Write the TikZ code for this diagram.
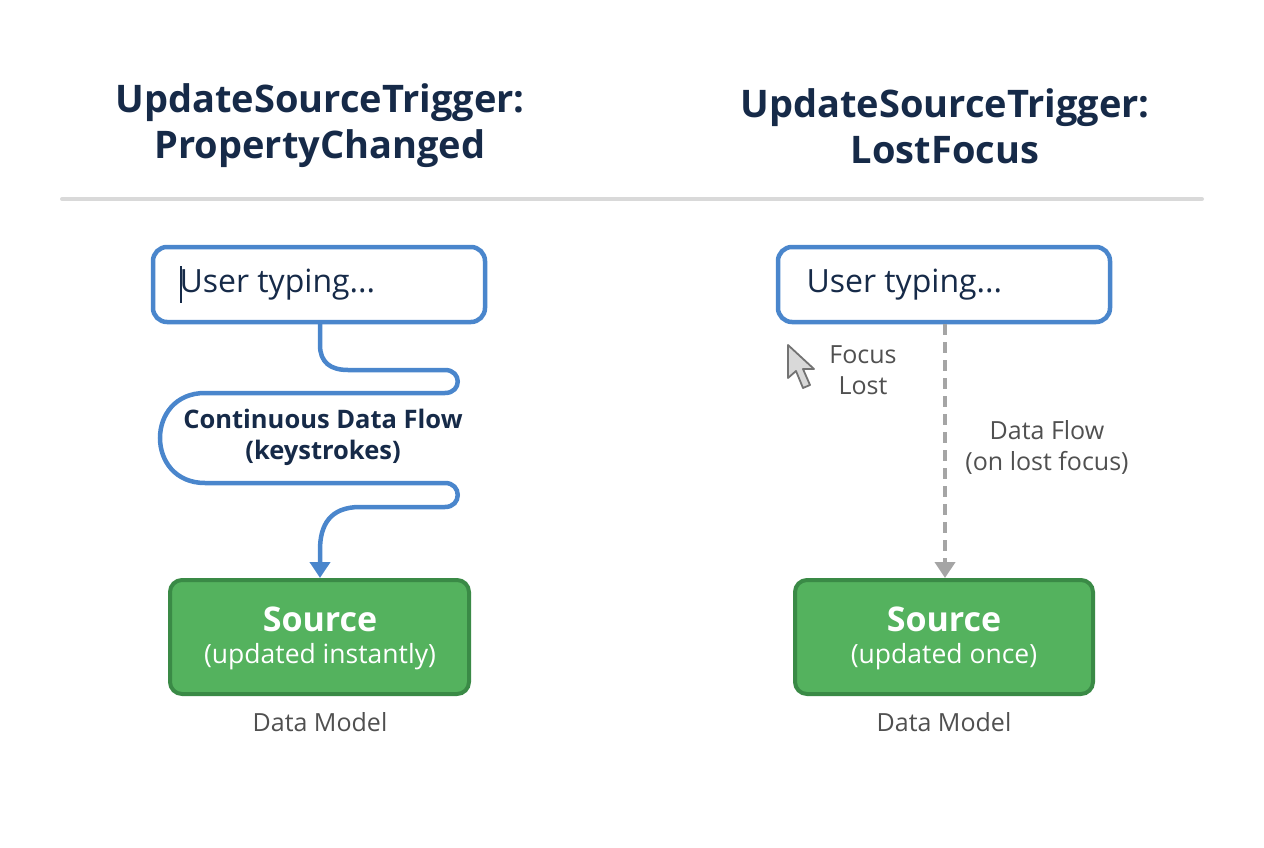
\documentclass[tikz,border=0pt]{standalone}
\usepackage{fontspec}
\setmainfont{Open Sans}
\usetikzlibrary{arrows.meta}
\definecolor{navy}{RGB}{22,42,72}
\definecolor{flowblue}{RGB}{74,134,204}
\definecolor{srcgreen}{RGB}{84,178,94}
\definecolor{srcedge}{RGB}{58,138,70}
\definecolor{txtgray}{RGB}{80,80,80}
\definecolor{dashgray}{RGB}{165,165,165}
\tikzset{
  title/.style={font=\fontsize{38}{46}\selectfont\bfseries, text=navy, align=center},
  inbox/.style={draw=flowblue, line width=4.5pt, rounded corners=14pt, fill=white},
  srcbox/.style={draw=srcedge, line width=4pt, rounded corners=12pt, fill=srcgreen},
  label/.style={font=\fontsize{25}{31}\selectfont, align=center},
}
\begin{document}
\begin{tikzpicture}[x=1pt,y=-1pt]
\useasboundingbox (0,0) rectangle (1264,848);

% titles
\node[title] (tl) at (320,126) {UpdateSourceTrigger:\\PropertyChanged};
\node[title] (tr) at (945,126) {UpdateSourceTrigger:\\LostFocus};
\draw[line width=4pt, color=black!15, line cap=round] (62,199) -- (1202,199);

% left side
\draw[inbox] (153,247) rectangle (485,322);
\node[anchor=west, font=\fontsize{32}{36}\selectfont, text=navy] (ul) at (176,285) {User typing...};
\draw[navy, line width=1.2pt] (181,266) -- (181,303);
\draw[srcbox] (170,580) rectangle (469,694);
\node[font=\fontsize{34}{38}\selectfont\bfseries, text=white] (sl) at (320,619) {Source};
\node[font=\fontsize{26.5}{30}\selectfont, text=white] (sl2) at (320,657) {(updated instantly)};
\node[label, text=txtgray] (dl) at (320,722) {Data Model};
\draw[flowblue, line width=4.5pt, -{Triangle[length=16pt,width=20pt]}]
  (320,322) -- (320,345) .. controls (320,362) and (330,370) .. (348,370)
  -- (445,370) .. controls (462,370) and (462,393) .. (445,393)
  -- (205,393) .. controls (145,393) and (145,483) .. (205,483)
  -- (445,483) .. controls (462,483) and (462,507) .. (445,507)
  -- (360,507) .. controls (330,507) and (320,525) .. (320,550) -- (320,578);
\node[label, font=\fontsize{25.5}{31}\selectfont\bfseries, text=navy] (cf) at (323,437) {Continuous Data Flow\\(keystrokes)};

% right side
\draw[inbox] (778,247) rectangle (1110,322);
\node[anchor=west, font=\fontsize{32}{36}\selectfont, text=navy] (ur) at (803,285) {User typing...};
\draw[srcbox] (795,580) rectangle (1093,694);
\node[font=\fontsize{34}{38}\selectfont\bfseries, text=white] (sr) at (944,619) {Source};
\node[font=\fontsize{26.5}{30}\selectfont, text=white] (sr2) at (944,657) {(updated once)};
\node[label, text=txtgray] (dr) at (944,722) {Data Model};
\draw[dashgray, line width=4.5pt, dash pattern=on 11pt off 7pt, -{Triangle[length=16pt,width=20pt]}]
  (945,324) -- (945,578);
\node[label, text=txtgray] (fl) at (863,370) {Focus\\Lost};
\node[label, text=txtgray] (df) at (1047,447) {Data Flow\\(on lost focus)};
% cursor
\draw[fill=black!15, draw=black!55, line width=1.8pt, line join=round]
  (788,345) -- (788,378) -- (796,371) -- (803,388) -- (810,385) -- (803,369) -- (814,369) -- cycle;
\end{tikzpicture}
\end{document}
